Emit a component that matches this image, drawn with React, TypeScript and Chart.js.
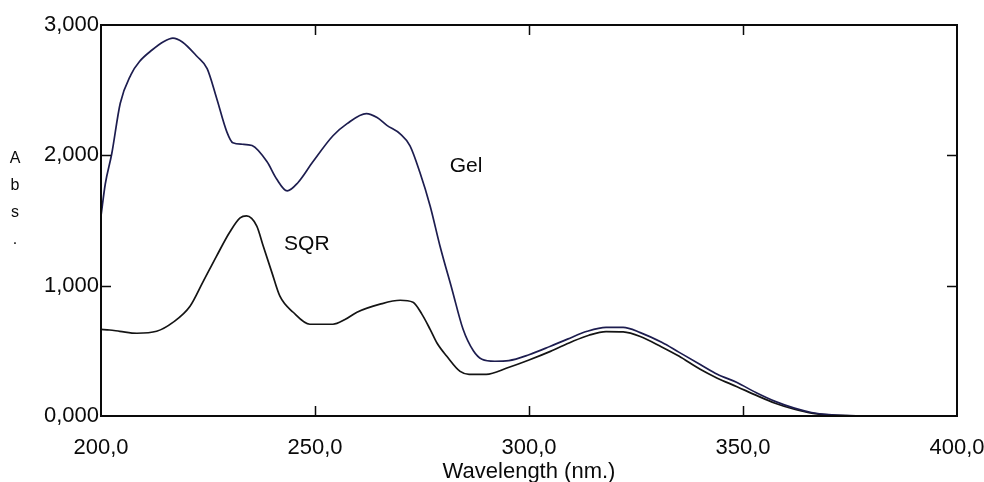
import { useEffect, useRef } from "react";
import { Chart, registerables } from "chart.js";

Chart.register(...registerables);

// Absorbance spectra (wavelength in nm, absorbance in Abs)
const gelWavelengths = [
  200, 201, 202.5, 204.5, 207, 209, 212, 214.5, 216.8, 219, 222.4, 224.8, 227, 229.4, 230.8,
  233, 235.3, 238.8, 241, 243.5, 246, 249.5, 254.2, 257.5, 262, 264.5, 266.8, 269.9, 272.2,
  274.5, 276.9, 279.2, 282, 284.6, 287, 289, 292, 295.3, 300, 305, 309, 313.6, 318, 322, 326,
  331, 335, 340, 344, 348.6, 353, 357.5, 362, 366, 370, 375, 380, 400,
];
const gelAbs = [
  1.535, 1.78, 2.01, 2.4, 2.62, 2.72, 2.81, 2.87, 2.9, 2.87, 2.76, 2.665, 2.44, 2.18, 2.096,
  2.085, 2.075, 1.95, 1.82, 1.727, 1.79, 1.95, 2.15, 2.243, 2.32, 2.29, 2.23, 2.165, 2.073,
  1.87, 1.612, 1.305, 0.973, 0.665, 0.5, 0.435, 0.42, 0.425, 0.47, 0.535, 0.59, 0.65, 0.68,
  0.68, 0.64, 0.565, 0.49, 0.396, 0.32, 0.257, 0.18, 0.112, 0.06, 0.027, 0.01, 0.003, 0, 0,
];

const sqrWavelengths = [
  200, 202, 204.4, 208.4, 213, 216.8, 220.8, 223.8, 227, 230.1, 232.5, 234, 236.4, 237.9,
  239.9, 241.8, 244.9, 248.8, 254.2, 257, 259.8, 265.2, 269.9, 272.9, 275, 276.9, 278.5,
  280.8, 283.9, 286, 290, 295, 300, 305, 310, 314, 318, 322, 326, 331, 335, 340, 344, 348.6,
  353, 357.5, 362, 366, 370, 375, 380, 400,
];
const sqrAbs = [
  0.665, 0.66, 0.65, 0.635, 0.65, 0.718, 0.842, 1.027, 1.227, 1.412, 1.52, 1.535, 1.457,
  1.304, 1.104, 0.919, 0.796, 0.704, 0.704, 0.74, 0.796, 0.858, 0.888, 0.873, 0.78, 0.665,
  0.56, 0.458, 0.342, 0.32, 0.32, 0.37, 0.43, 0.496, 0.57, 0.62, 0.648, 0.645, 0.61, 0.53,
  0.46, 0.358, 0.29, 0.225, 0.16, 0.098, 0.052, 0.022, 0.008, 0.002, 0, 0,
];

const xTickValues = [200, 250, 300, 350, 400];
const yTickValues = [0, 1, 2, 3];

const seriesNames = ["Gel", "SQR"];
const nameWavelengths = [285.3, 248.1];
const nameAbs = [1.92, 1.32];

const yAxisLetters = ["A", "b", "s", "."];
const xAxisTitle = "Wavelength (nm.)";

const FONT = '"Liberation Sans", Arial, sans-serif';
const INK = "#0a0a0a";

const toPoints = (xs: number[], ys: number[]) => xs.map((x, i) => ({ x, y: ys[i] }));

// Box frame, inward tick marks on all four sides and the in-plot text
const framePlugin = {
  id: "spectrumFrame",
  afterDatasetsDraw(chart: any) {
    const { ctx, chartArea, scales } = chart;
    const { left, right, top, bottom } = chartArea;
    const xs = scales.x;
    const ys = scales.y;
    const tick = 10;
    ctx.save();
    ctx.strokeStyle = INK;
    ctx.lineWidth = 2;
    ctx.strokeRect(left, top, right - left, bottom - top);
    ctx.lineWidth = 1.5;
    ctx.beginPath();
    xTickValues.slice(1, -1).forEach((v) => {
      const px = Math.round(xs.getPixelForValue(v)) + 0.5;
      ctx.moveTo(px, bottom);
      ctx.lineTo(px, bottom - tick);
      ctx.moveTo(px, top);
      ctx.lineTo(px, top + tick);
    });
    yTickValues.slice(1, -1).forEach((v) => {
      const py = Math.round(ys.getPixelForValue(v)) + 0.5;
      ctx.moveTo(left, py);
      ctx.lineTo(left + tick, py);
      ctx.moveTo(right, py);
      ctx.lineTo(right - tick, py);
    });
    ctx.stroke();

    ctx.fillStyle = INK;
    ctx.textAlign = "center";
    ctx.textBaseline = "middle";
    ctx.font = `21px ${FONT}`;
    seriesNames.forEach((name, i) => {
      ctx.fillText(name, xs.getPixelForValue(nameWavelengths[i]), ys.getPixelForValue(nameAbs[i]));
    });

    // stacked y-axis caption
    ctx.font = `16px ${FONT}`;
    const midY = (top + bottom) / 2;
    yAxisLetters.forEach((ch, i) => {
      ctx.fillText(ch, 15, midY - 62 + i * 27);
    });
    ctx.restore();
  },
};

export default function App() {
  const canvasRef = useRef<HTMLCanvasElement | null>(null);

  useEffect(() => {
    const canvas = canvasRef.current;
    if (!canvas) return;
    const chart = new Chart(canvas, {
      type: "line",
      data: {
        datasets: [
          {
            label: seriesNames[0],
            data: toPoints(gelWavelengths, gelAbs),
            borderColor: "#1d1d4f",
            borderWidth: 1.7,
            pointRadius: 0,
            cubicInterpolationMode: "monotone",
            fill: false,
          },
          {
            label: seriesNames[1],
            data: toPoints(sqrWavelengths, sqrAbs),
            borderColor: "#141414",
            borderWidth: 1.7,
            pointRadius: 0,
            cubicInterpolationMode: "monotone",
            fill: false,
          },
        ],
      },
      options: {
        responsive: false,
        animation: false,
        devicePixelRatio: 1,
        layout: { padding: { top: 25, right: 0, bottom: 0, left: 0 } },
        plugins: {
          legend: { display: false },
          tooltip: { enabled: false },
        },
        scales: {
          x: {
            type: "linear",
            min: 200,
            max: 400,
            afterBuildTicks: (scale: any) => {
              scale.ticks = xTickValues.map((value) => ({ value }));
            },
            afterFit: (scale: any) => {
              scale.height = 66;
              scale.paddingLeft = 0;
              scale.paddingRight = 27;
            },
            grid: { display: false, drawTicks: false },
            border: { display: false },
            ticks: {
              autoSkip: false,
              maxRotation: 0,
              padding: 19,
              color: INK,
              font: { family: FONT, size: 22 },
              callback: (v: any) => Number(v).toFixed(1).replace(".", ","),
            },
            title: {
              display: true,
              text: xAxisTitle,
              color: INK,
              padding: { top: 0, bottom: -1 },
              font: { family: FONT, size: 22, lineHeight: 1 },
            },
          },
          y: {
            type: "linear",
            min: 0,
            max: 3,
            afterBuildTicks: (scale: any) => {
              scale.ticks = yTickValues.map((value) => ({ value }));
            },
            afterFit: (scale: any) => {
              scale.width = 101;
            },
            grid: { display: false, drawTicks: false },
            border: { display: false },
            ticks: {
              autoSkip: false,
              padding: 2,
              color: INK,
              font: { family: FONT, size: 22 },
              callback: (v: any) => Number(v).toFixed(3).replace(".", ","),
            },
          },
        },
      },
      plugins: [framePlugin],
    });
    return () => chart.destroy();
  }, []);

  return (
    <div style={{ position: "absolute", left: 0, top: 0, width: 984, height: 482, background: "#ffffff" }}>
      <canvas ref={canvasRef} width={984} height={482} />
    </div>
  );
}
